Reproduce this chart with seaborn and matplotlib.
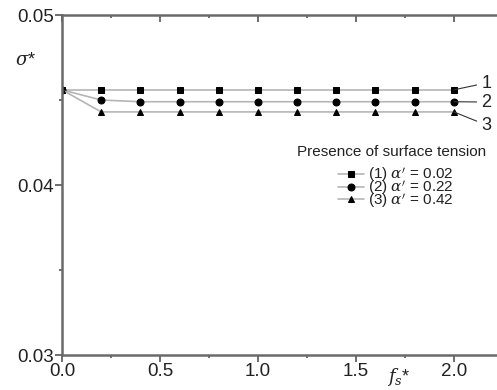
import pandas as pd
import numpy as np
import matplotlib.pyplot as plt
import seaborn as sns

fs = [0.0, 0.2, 0.4, 0.6, 0.8, 1.0, 1.2, 1.4, 1.6, 1.8, 2.0]
sigma_1 = [0.0456, 0.0456, 0.0456, 0.0456, 0.0456, 0.0456, 0.0456, 0.0456, 0.0456, 0.0456, 0.0456]
sigma_2 = [0.0456, 0.0450, 0.0449, 0.0449, 0.0449, 0.0449, 0.0449, 0.0449, 0.0449, 0.0449, 0.0449]
sigma_3 = [0.0456, 0.0443, 0.0443, 0.0443, 0.0443, 0.0443, 0.0443, 0.0443, 0.0443, 0.0443, 0.0443]
labels = ["(1) $\\alpha'$ = 0.02", "(2) $\\alpha'$ = 0.22", "(3) $\\alpha'$ = 0.42"]
curve_ids = ['1', '2', '3']

data = pd.DataFrame({
    'fs': fs * 3,
    'sigma': sigma_1 + sigma_2 + sigma_3,
    'case': [labels[0]] * len(fs) + [labels[1]] * len(fs) + [labels[2]] * len(fs),
})

sns.set_style('white')
plt.rcParams['font.family'] = ['Liberation Sans', 'DejaVu Sans']
plt.rcParams['mathtext.fontset'] = 'dejavuserif'

fig = plt.figure(figsize=(4.97, 3.90), dpi=100)
ax = fig.add_axes([0.1247, 0.0897, 0.887, 0.8718])

markers = {labels[0]: 's', labels[1]: 'o', labels[2]: '^'}
sns.lineplot(data=data, x='fs', y='sigma', hue='case', style='case',
             palette=['#b5b5b5'] * 3, markers=markers, dashes=False,
             markersize=5, markerfacecolor='black', markeredgecolor='black',
             linewidth=1.2, ax=ax)

ax.set_xlim(0, 2.25)
ax.set_ylim(0.03, 0.05)
xt = [0.0, 0.5, 1.0, 1.5, 2.0]
xm = [0.25, 0.75, 1.25, 1.75]
ax.set_xticks(xt)
ax.set_xticks(xm, minor=True)
ax.set_yticks([0.03, 0.04, 0.05])
ax.set_yticks([0.035, 0.045], minor=True)
ax.set_xticklabels(['0.0', '0.5', '1.0', '1.5', '2.0'])
ax.set_yticklabels(['0.03', '0.04', '0.05'])
ax.tick_params(axis='both', which='major', direction='out', length=5, width=1.2,
               color='#555555', labelsize=13.5, labelcolor='#222222', pad=1,
               bottom=True, left=True, top=False)
ax.tick_params(axis='both', which='minor', direction='out', length=2.5, width=1.2,
               color='#555555', bottom=True, left=True, top=False)
for side in ['left', 'bottom']:
    ax.spines[side].set_color('#6a6a6a')
    ax.spines[side].set_linewidth(1.8)
ax.spines['right'].set_visible(False)
ax.spines['top'].set_visible(False)
ax.set_xlabel('')
ax.set_ylabel('')

# top axis with inward ticks
top = ax.secondary_xaxis('top')
top.set_xticks(xt)
top.set_xticks(xm, minor=True)
top.set_xticklabels([])
top.tick_params(which='major', direction='in', length=5, width=1.2, color='#555555')
top.tick_params(which='minor', direction='in', length=2.5, width=1.2, color='#555555')
top.spines['top'].set_color('#6a6a6a')
top.spines['top'].set_linewidth(1.8)

ax.text(-0.24, 0.0473, '$\\sigma$*', fontsize=13, color='#222222', va='center')
ax.text(1.72, 0.0287, '$f_s$*', fontsize=13, color='#222222', ha='center', va='center')

last = [sigma_1[-1], sigma_2[-1], sigma_3[-1]]
ends = [0.0460, 0.04488, 0.04353]
for cid, val, yy in zip(curve_ids, last, ends):
    ax.annotate(cid, xy=(2.0, val), xytext=(2.14, yy), fontsize=13,
                va='center', color='#222222',
                arrowprops=dict(arrowstyle='-', color='#333333', lw=0.8,
                                shrinkA=1, shrinkB=0))

# legend title drawn separately so the rows can sit tight
ax.text(1.684, 0.04194, 'Presence of surface tension',
        fontsize=11, color='#222222', ha='center', va='center')
handles, lbls = ax.get_legend_handles_labels()
leg = ax.legend(handles, lbls, loc='upper center', bbox_to_anchor=(0.757, 0.585),
                frameon=False, fontsize=11, handlelength=1.7, handletextpad=0.3,
                labelspacing=-0.4, borderpad=0.1)
for t in leg.get_texts():
    t.set_color('#222222')

fig.savefig('out.png', dpi=100)
